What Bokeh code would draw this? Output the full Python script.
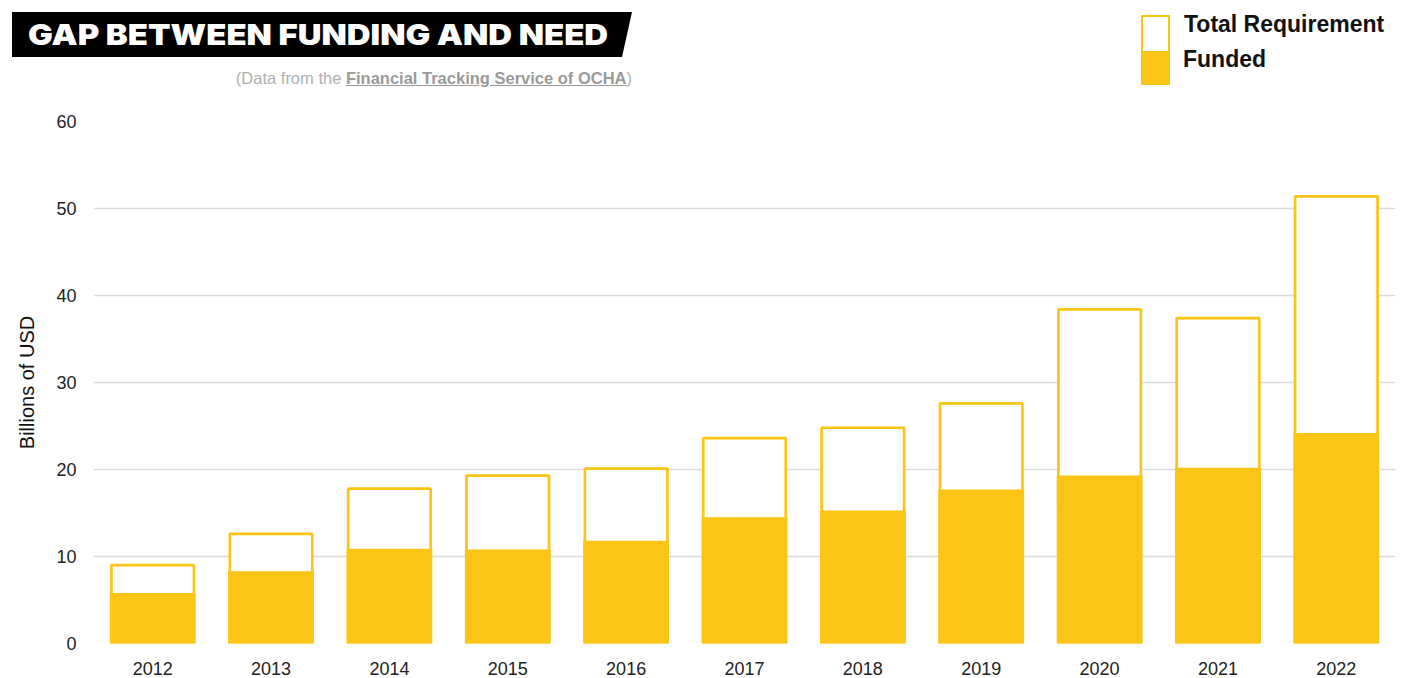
from bokeh.plotting import figure
from bokeh.models import Div, FactorRange, Range1d, FixedTicker
from bokeh.layouts import column
from bokeh.embed import file_html
from bokeh.resources import INLINE

years = ["2012", "2013", "2014", "2015", "2016", "2017", "2018", "2019", "2020", "2021", "2022"]
total_requirement = [9.0, 12.6, 17.8, 19.3, 20.1, 23.6, 24.8, 27.6, 38.4, 37.4, 51.4]
funded = [5.8, 8.3, 10.9, 10.8, 11.8, 14.5, 15.3, 17.7, 19.3, 20.2, 24.2]
y_ticks = [0, 10, 20, 30, 40, 50, 60]

YEL = "#FCC515"
FONT = "Liberation Sans"

title_text = "GAP BETWEEN FUNDING AND NEED"
source_prefix = "(Data from the "
source_link = "Financial Tracking Service of OCHA"
source_suffix = ")"
legend_total = "Total Requirement"
legend_funded = "Funded"

header_html = f"""
<div style="position:relative;width:1410px;height:108px;font-family:'{FONT}',Arial,sans-serif;">
  <div style="position:absolute;left:12px;top:12px;width:620px;height:45px;background:#000;
       clip-path:polygon(0 0,100% 0,calc(100% - 10px) 100%,0 100%);"></div>
  <div style="position:absolute;left:28px;top:12px;height:45px;line-height:45px;color:#fff;
       font-family:Inter,'{FONT}',sans-serif;font-weight:900;font-size:29px;white-space:nowrap;
       transform:scaleX(1.135);transform-origin:0 50%;">{title_text}</div>
  <div style="position:absolute;left:0px;top:69px;width:632px;text-align:right;font-size:16.5px;line-height:18px;
       color:#b0b0b0;white-space:nowrap;">{source_prefix}<span style="font-weight:bold;color:#9a9a9a;text-decoration:underline;">{source_link}</span>{source_suffix}</div>
  <div style="position:absolute;left:1141px;top:15px;width:29px;height:36px;box-sizing:border-box;
       border:2.5px solid {YEL};border-bottom:none;background:#fff;"></div>
  <div style="position:absolute;left:1141px;top:51px;width:29px;height:34px;background:{YEL};"></div>
  <div style="position:absolute;left:1184px;top:11px;line-height:26px;font-size:23px;font-weight:bold;color:#111;white-space:nowrap;">{legend_total}</div>
  <div style="position:absolute;left:1183px;top:46px;line-height:26px;font-size:23px;font-weight:bold;color:#111;white-space:nowrap;">{legend_funded}</div>
</div>
"""

header = Div(text=header_html, width=1410, height=108, margin=0)

p = figure(
    x_range=FactorRange(*years, range_padding=0),
    y_range=Range1d(0, 60),
    width=1410, height=570,
    output_backend="svg", toolbar_location=None,
    min_border_left=93, min_border_right=15, min_border_top=13, min_border_bottom=35,
)

p.vbar(x=years, top=total_requirement, width=0.697, bottom=0,
       fill_color="white", line_color=YEL, line_width=2.7)
p.vbar(x=years, top=funded, width=0.725, bottom=0,
       fill_color=YEL, line_color=None)

p.outline_line_color = None
p.xgrid.grid_line_color = None
p.ygrid.grid_line_color = "#dcdcdc"
p.ygrid.grid_line_width = 1.5
p.yaxis.ticker = FixedTicker(ticks=y_ticks)

for ax in (p.xaxis[0], p.yaxis[0]):
    ax.axis_line_color = None
    ax.major_tick_line_color = None
    ax.minor_tick_line_color = None
    ax.major_tick_out = 0
    ax.major_tick_in = 0
    ax.major_label_text_font = FONT
    ax.major_label_text_font_size = "18px"
    ax.major_label_text_color = "#222222"

p.xaxis.major_label_standoff = 18
p.yaxis.major_label_standoff = 17
p.yaxis.axis_label = "Billions of USD"
p.yaxis.axis_label_text_font = FONT
p.yaxis.axis_label_text_font_size = "20px"
p.yaxis.axis_label_text_font_style = "normal"
p.yaxis.axis_label_text_color = "#111111"
p.yaxis.axis_label_standoff = 15

layout = column(header, p, spacing=0, margin=0)

open("out.html", "w").write(file_html(layout, INLINE))
